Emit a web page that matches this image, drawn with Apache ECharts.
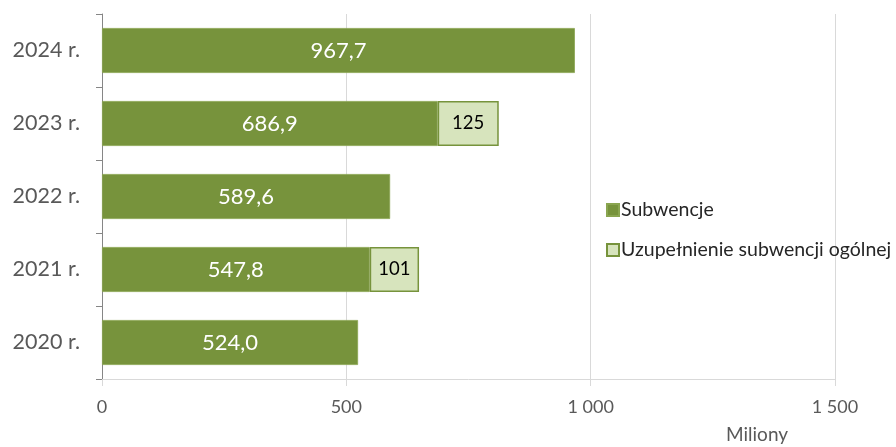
<!DOCTYPE html>
<html><head><meta charset="utf-8">
<script src="https://cdn.jsdelivr.net/npm/echarts@6/dist/echarts.min.js"></script>
<style>html,body{margin:0;padding:0;background:#fff}#c{width:896px;height:447px}</style>
</head><body><div id="c"></div>
<script>
const categories = ['2020 r.', '2021 r.', '2022 r.', '2023 r.', '2024 r.'];
const subwencje = [524.0, 547.8, 589.6, 686.9, 967.7];
const uzupelnienie = [null, 101, null, 125, null];
const seriesNames = ['Subwencje', 'Uzupełnienie subwencji ogólnej'];
const unitLabel = 'Miliony';
const xTicks = [0, 500, 1000, 1500];

const FONT = 'Lato';
const chart = echarts.init(document.getElementById('c'), null, {renderer: 'canvas'});
chart.setOption({
  animation: false,
  textStyle: {fontFamily: FONT},
  grid: {left: 102, right: 61, top: 14, bottom: 68, containLabel: false},
  title: {
    text: unitLabel, left: 721, top: 420,
    textStyle: {fontFamily: FONT, fontSize: 19, fontWeight: 'normal', color: '#595959'}
  },
  legend: {
    orient: 'vertical', left: 601, top: 195,
    itemWidth: 12, itemHeight: 12, itemGap: 20, icon: 'rect',
    textStyle: {fontFamily: FONT, fontSize: 19.5, color: '#262626', lineHeight: 20, padding: [0,0,0,-3]},
    data: seriesNames
  },
  xAxis: {
    type: 'value', min: xTicks[0], max: xTicks[xTicks.length - 1], interval: 500,
    axisLine: {show: true, lineStyle: {color: '#d9d9d9'}},
    axisTick: {show: true, length: 7, lineStyle: {color: '#d9d9d9'}},
    splitLine: {show: true, lineStyle: {color: '#d9d9d9'}},
    axisLabel: {
      fontFamily: FONT, fontSize: 18, color: '#595959', margin: 19,
      formatter: v => String(v).replace(/\B(?=(\d{3})+(?!\d))/g, ' ')
    }
  },
  yAxis: {
    type: 'category', data: categories,
    axisLine: {show: true, lineStyle: {color: '#868686'}},
    axisTick: {show: true, length: 6, lineStyle: {color: '#868686'}},
    axisLabel: {fontFamily: FONT, fontSize: 21.5, color: '#595959', margin: 22}
  },
  series: [
    {
      name: seriesNames[0], type: 'bar', stack: 'a', data: subwencje,
      barWidth: 45,
      itemStyle: {color: '#77933C', borderColor: '#8aa550', borderWidth: 0.8},
      label: {
        show: true, position: 'inside', color: '#fff', fontFamily: FONT, fontSize: 22,
        formatter: p => p.value.toFixed(1).replace('.', ',')
      }
    },
    {
      name: seriesNames[1], type: 'bar', stack: 'a', data: uzupelnienie,
      barWidth: 45,
      itemStyle: {color: '#D7E4BD', borderColor: '#77933C', borderWidth: 1.5},
      label: {
        show: true, position: 'inside', color: '#000', fontFamily: FONT, fontSize: 18.5,
        formatter: p => (p.value == null ? '' : String(p.value))
      }
    }
  ]
});
</script>
</body></html>
